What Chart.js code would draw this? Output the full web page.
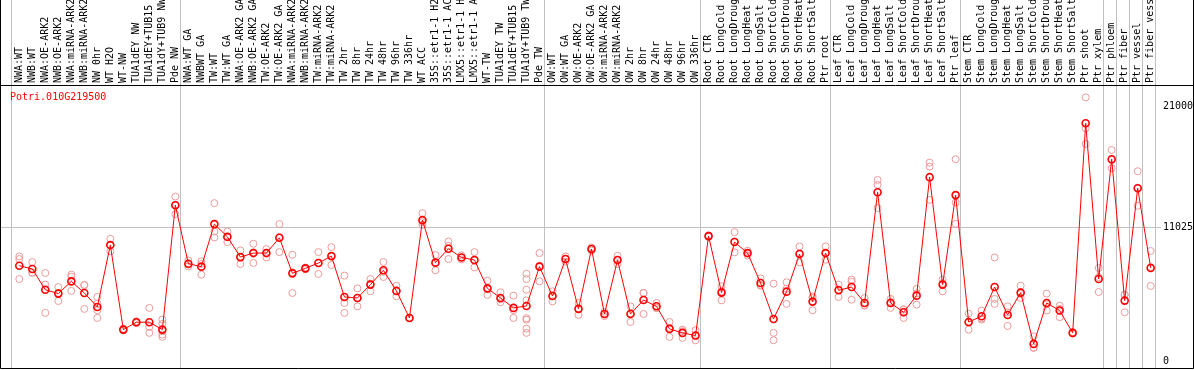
<!DOCTYPE html>
<html>
<head>
<meta charset="utf-8">
<script src="https://cdn.jsdelivr.net/npm/chart.js"></script>
<style>
  body { margin: 0; background: #fff; }
  canvas { display: block; }
</style>
</head>
<body>
<canvas id="myChart" width="1194" height="370"></canvas>
<script>
// gene shown in the chart
var geneName = "Potri.010G219500";

// sample names, in plotting order
var categories = [
    "NWA:WT", "NWB:WT", "NWA:OE-ARK2", "NWB:OE-ARK2", "NWA:miRNA-ARK2", "NWB:miRNA-ARK2",
    "NW 0hr", "WT H2O", "WT-NW", "TUA1dEY NW", "TUA1dEY+TUB15 NW", "TUA1dY+TUB9 NW", "Pde NW",
    "NWA:WT GA", "NWBWT GA", "TW:WT", "TW:WT GA", "NWA:OE-ARK2 GA", "NWB:OE-ARK2 GA", "TW:OE-ARK2",
    "TW:OE-ARK2 GA", "NWA:miRNA-ARK2 GA", "NWB:miRNA-ARK2 GA", "TW:miRNA-ARK2", "TW:miRNA-ARK2 GA",
    "TW 2hr", "TW 8hr", "TW 24hr", "TW 48hr", "TW 96hr", "TW 336hr", "WT ACC",
    "35S::etr1-1 H2O", "35S::etr1-1 ACC", "LMX5::etr1-1 H2O", "LMX5::etr1-1 ACC", "WT-TW",
    "TUA1dEY TW", "TUA1dEY+TUB15 TW", "TUA1dY+TUB9 TW", "Pde TW",
    "OW:WT", "OW:WT GA", "OW:OE-ARK2", "OW:OE-ARK2 GA", "OW:miRNA-ARK2", "OW:miRNA-ARK2 GA",
    "OW 2hr", "OW 8hr", "OW 24hr", "OW 48hr", "OW 96hr", "OW 336hr",
    "Root CTR", "Root LongCold", "Root LongDrought", "Root LongHeat", "Root LongSalt",
    "Root ShortCold", "Root ShortDrought", "Root ShortHeat", "Root ShortSalt", "Ptr root",
    "Leaf CTR", "Leaf LongCold", "Leaf LongDrought", "Leaf LongHeat", "Leaf LongSalt",
    "Leaf ShortCold", "Leaf ShortDrought", "Leaf ShortHeat", "Leaf ShortSalt", "Ptr leaf",
    "Stem CTR", "Stem LongCold", "Stem LongDrought", "Stem LongHeat", "Stem LongSalt",
    "Stem ShortCold", "Stem ShortDrought", "Stem ShortHeat", "Stem ShortSalt", "Ptr shoot", "Ptr xylem",
    "Ptr phloem", "Ptr fiber", "Ptr vessel", "Ptr fiber vessel"
];

// index of the last sample in each experiment group (-1 = line before the first one)
var groupEnds = [-1, 12, 40, 52, 62, 72, 83, 84, 85, 86, 87];

// mean expression per sample
var means = [
    7900, 7630, 5920, 5600, 6610, 5650, 4500, 9600, 2630, 3240, 3240, 2630, 12890,
    8060, 7820, 11330, 10280, 8610, 8940, 8940, 10200, 7270, 7680, 8120, 8690,
    5320, 5240, 6340, 7520, 5820, 3590, 11660, 8150, 9300, 8580, 8370, 6030,
    5240, 4420, 4580, 7820,
    5400, 8450, 4340, 9280, 3920, 8370, 3920, 5070, 4550, 2690, 2360, 2140,
    10340, 5680, 9850, 8940, 6470, 3510, 5760, 8860, 4940, 8940,
    5870, 6140, 4830, 13960, 4830, 4060, 5430, 15200, 6340, 13720,
    3260, 3730, 6140, 3840, 5680, 1450, 4830, 4200, 2360, 19640, 6800,
    16680, 5020, 14290, 7710
];

// single replicates per sample
var replicates = [
    [8670, 8450, 6800], [8200, 7350, 7300], [7300, 6340, 4010], [6140, 5650, 4990],
    [7160, 7000, 5820], [6310, 6300, 4340], [5320, 4770, 4220, 3590], [10120, 9600, 9080],
    [2700, 2630, 2560], [3320, 3240, 3160], [4420, 2850, 2360], [3460, 3100, 2500, 2220, 2030],
    [13600, 12900, 12150],
    [8340, 8000, 7840], [8260, 8050, 7160], [13060, 10720, 10230], [10720, 10280, 9850],
    [9160, 8620, 8040], [9710, 9000, 8120], [9270, 8960, 8580], [11330, 10250, 9020],
    [8800, 7350, 5650], [7750, 7680, 7600], [9020, 8120, 7220], [9430, 8700, 7950],
    [7080, 4830, 4010], [6030, 5240, 4550], [6800, 6420, 5790], [8200, 7400, 6970],
    [6250, 5820, 5380], [3620, 3590, 3570], [12230, 11480, 11270], [8780, 8150, 7520],
    [9900, 9540, 8450], [8750, 8580, 8420], [9020, 8320, 7760], [6660, 5950, 5490],
    [5710, 5130, 4880], [5430, 4230, 3590], [7240, 6800, 5920, 5040, 3570, 3450, 2710, 2360],
    [8940, 7900, 6610],
    [5790, 5450, 4960], [8670, 8450, 8230], [4830, 4340, 3840], [9400, 9280, 9150],
    [4100, 3920, 3750], [8720, 8370, 8020], [4550, 3960, 3260], [5650, 5650, 3920],
    [4830, 4420, 4400], [3260, 2780, 2030], [2630, 2500, 1950], [2580, 2100, 1750],
    [10400, 10340, 10280], [6200, 5790, 5040], [10670, 9890, 9000], [9130, 8940, 8750],
    [6860, 6300, 6250], [6420, 2360, 1750], [6530, 6000, 4750], [9490, 8920, 8170],
    [5240, 5350, 4220], [9490, 8940, 8390],
    [6340, 5950, 5320], [6750, 6570, 5100], [5240, 4640, 4610], [14970, 14560, 12650],
    [5160, 4910, 4420], [4300, 4280, 3590], [5980, 5620, 4690], [16400, 16070, 13330],
    [6750, 6470, 5790], [16680, 13110, 11350],
    [3950, 3200, 2630], [4200, 3550, 3460], [8580, 5160, 4750], [4550, 4040, 2930],
    [6250, 5560, 5240], [2080, 1150, 1120], [5600, 4700, 4200], [4610, 4340, 3650],
    [2420, 2360, 2300], [21780, 19230, 17940], [7710, 6960, 5730],
    [17440, 16620, 15940], [5510, 5500, 4060], [15690, 14340, 12840], [9110, 7790, 6230]
];

// value axis labels
var yTicks = [0, 11025, 21000];

var monoFont = { family: "'DejaVu Sans Mono', monospace", size: 10 };

// points for the library
var meanPoints = means.map(function (v, i) { return { x: i, y: v }; });
var repPoints = [];
replicates.forEach(function (list, i) {
    list.forEach(function (v) { repPoints.push({ x: i, y: v }); });
});

// group separators, black frame and gene name
var framePlugin = {
    id: 'framePlugin',
    beforeDatasetsDraw: function (chart) {
        var ctx = chart.ctx;
        var xAxis = chart.scales.x;
        var area = chart.chartArea;
        ctx.save();
        ctx.strokeStyle = '#c0c0c0';
        ctx.lineWidth = 1;
        groupEnds.forEach(function (end) {
            var px = Math.round(xAxis.getPixelForValue(end + 0.35)) + 0.5;
            ctx.beginPath();
            ctx.moveTo(px, 0);
            ctx.lineTo(px, area.bottom);
            ctx.stroke();
        });
        ctx.restore();
    },
    afterDraw: function (chart) {
        var ctx = chart.ctx;
        var area = chart.chartArea;
        var w = chart.width;
        ctx.save();
        ctx.strokeStyle = '#000';
        ctx.lineWidth = 1;
        ctx.beginPath();
        ctx.moveTo(0.5, 0);
        ctx.lineTo(0.5, area.bottom + 0.5);
        ctx.lineTo(w - 0.5, area.bottom + 0.5);
        ctx.lineTo(w - 0.5, 0);
        ctx.moveTo(0, area.top + 0.5);
        ctx.lineTo(w, area.top + 0.5);
        ctx.stroke();

        ctx.fillStyle = '#ff0000';
        ctx.font = "10px 'DejaVu Sans Mono', monospace";
        ctx.textBaseline = 'alphabetic';
        ctx.fillText(geneName, 10, 100);
        ctx.restore();
    }
};

var ctx = document.getElementById("myChart").getContext("2d");
var myChart = new Chart(ctx, {
    type: 'line',
    data: {
        datasets: [{
            label: 'mean',
            data: meanPoints,
            order: 0,
            borderColor: '#ff0000',
            borderWidth: 1,
            pointRadius: 3.5,
            pointBorderWidth: 1.6,
            pointBorderColor: '#ff0000',
            pointBackgroundColor: 'rgba(255,255,255,0)',
            tension: 0
        }, {
            type: 'scatter',
            label: 'replicates',
            data: repPoints,
            order: 1,
            showLine: false,
            pointRadius: 3.5,
            pointBorderWidth: 1,
            pointBorderColor: '#ec9a9a',
            pointBackgroundColor: 'rgba(255,255,255,0)'
        }]
    },
    options: {
        responsive: false,
        animation: false,
        layout: { autoPadding: false, padding: { left: 1, right: 0, top: 0, bottom: 2 } },
        plugins: {
            legend: { display: false },
            tooltip: { enabled: false }
        },
        scales: {
            x: {
                type: 'linear',
                position: 'top',
                min: -1.407,
                max: 87.331,
                grid: { display: false, drawTicks: false },
                border: { display: false },
                afterBuildTicks: function (scale) {
                    scale.ticks = categories.map(function (c, i) { return { value: i }; });
                },
                afterFit: function (scale) {
                    scale.height = 85;
                    scale.paddingLeft = 0;
                    scale.paddingRight = 0;
                },
                ticks: {
                    autoSkip: false,
                    minRotation: 90,
                    maxRotation: 90,
                    padding: 2,
                    labelOffset: 12,
                    color: '#000',
                    font: monoFont,
                    callback: function (value) { return categories[value]; }
                }
            },
            y: {
                position: 'right',
                min: -536,
                max: 22800,
                border: { display: false },
                afterBuildTicks: function (scale) {
                    scale.ticks = yTicks.map(function (v) { return { value: v }; });
                },
                afterFit: function (scale) {
                    scale.width = 39;
                    scale.paddingTop = 0;
                    scale.paddingBottom = 0;
                },
                grid: {
                    tickLength: 6,
                    color: function (c) { return c.tick && c.tick.value === 11025 ? '#c0c0c0' : 'rgba(0,0,0,0)'; }
                },
                ticks: {
                    padding: 2,
                    color: '#000',
                    font: monoFont,
                    callback: function (value) { return String(value); }
                }
            }
        }
    },
    plugins: [framePlugin]
});
</script>
</body>
</html>
